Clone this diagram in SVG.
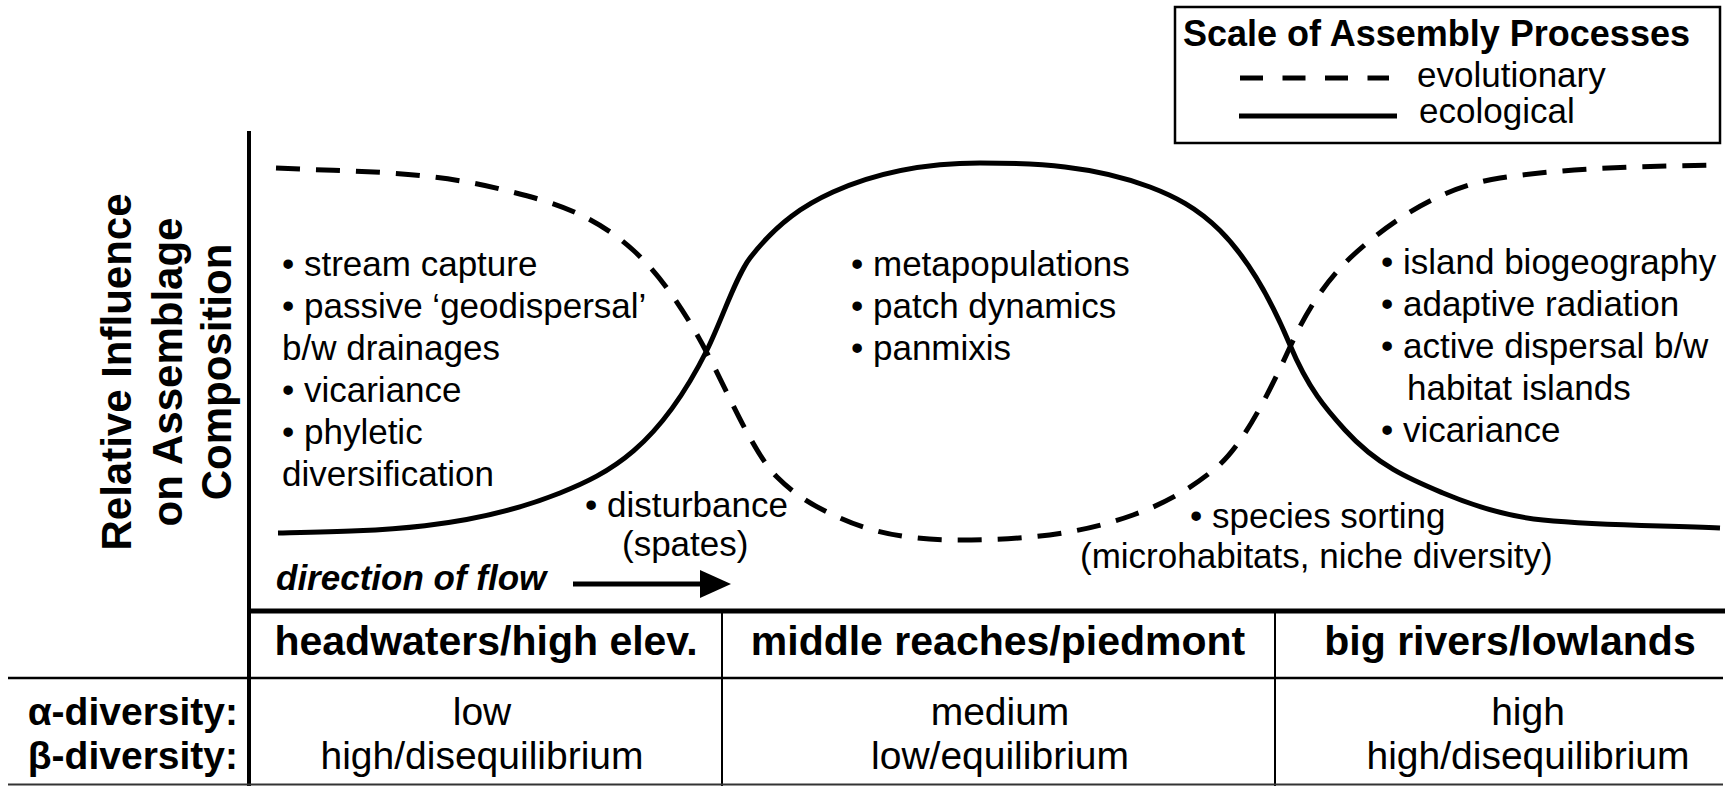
<svg xmlns="http://www.w3.org/2000/svg" width="1727" height="786" viewBox="0 0 1727 786">
<style>
.t{font-family:"Liberation Sans",Arial,Helvetica,sans-serif;fill:#000}
.r35{font-size:35px}
.b41{font-size:41px;font-weight:bold}
.b39{font-size:39px;font-weight:bold}
.r39{font-size:39px}
.lab{font-size:42px;font-weight:bold}
.ln{stroke:#000;fill:none}
.eco{stroke:#000;stroke-width:5;fill:none;stroke-linecap:butt}
.evo{stroke:#000;stroke-width:5;fill:none;stroke-dasharray:24 16}
</style>
<rect width="1727" height="786" fill="#fff"/>

<g id="legend">
  <rect x="1175" y="7" width="545" height="136" class="ln" stroke-width="2.5"/>
  <text class="t" x="1183" y="46" font-size="36" font-weight="bold">Scale of Assembly Processes</text>
  <line x1="1240" y1="78" x2="1389" y2="78" class="ln" stroke-width="5" stroke-dasharray="23 19.5"/>
  <text class="t r35" x="1417" y="87">evolutionary</text>
  <line x1="1239" y1="116" x2="1397" y2="116" class="ln" stroke-width="5"/>
  <text class="t r35" x="1419" y="123">ecological</text>
</g>

<g id="yaxis-label">
  <text class="t lab" text-anchor="middle" transform="translate(131,372) rotate(-90)">Relative Influence</text>
  <text class="t lab" text-anchor="middle" transform="translate(182,372) rotate(-90)">on Assemblage</text>
  <text class="t lab" text-anchor="middle" transform="translate(231,372) rotate(-90)">Composition</text>
</g>

<g id="axes">
  <line x1="249" y1="131" x2="249" y2="786" class="ln" stroke-width="4"/>
  <line x1="247" y1="611" x2="1725" y2="611" class="ln" stroke-width="5"/>
</g>

<g id="connectors">
  <path id="ecological-curve" class="eco" d="M278,533 C372,531 466,530.6 560,493 C609,473.4 658,448 707,350 C721.3,321.4 735.7,276.6 750,258 C777.7,222 805.3,204.5 833,192 C882,170 931,163 980,163 C1036.7,163 1093.3,165.5 1150,187 C1196.7,204.7 1243.3,232.9 1290,345 C1308.3,388.9 1326.7,409.9 1345,430 C1377.7,466 1410.3,479.3 1443,493 C1476.3,507 1509.7,516.7 1543,520 C1602,525.9 1661,525.3 1720,528"/>
  <path id="evolutionary-curve" class="evo" d="M276,168 C350.7,171.7 425.3,170.3 500,189 C544.3,200.1 588.7,210.1 633,250 C657.7,272.2 682.3,306.1 707,353 C730.3,397.3 753.7,453.7 777,477 C798,498 819,508.5 840,518 C880,536 920,540 960,540 C1017.7,540 1075.3,535.8 1133,515 C1161,504.9 1189,490.8 1217,467 C1241.3,446.3 1265.7,400.5 1290,347 C1315.7,290.5 1341.3,264.3 1367,243 C1411.3,206.2 1455.7,184.6 1500,178 C1572.3,167.2 1644.7,166.4 1717,165"/>
  <g id="flow-arrow">
    <line x1="573" y1="584" x2="705" y2="584" class="ln" stroke-width="5"/>
    <polygon points="700,570 731,584 700,598" fill="#000"/>
  </g>
</g>

<g id="headwaters-processes">
  <text class="t r35" x="282" y="276">• stream capture</text>
  <text class="t r35" x="282" y="318">• passive ‘geodispersal’</text>
  <text class="t r35" x="282" y="360">b/w drainages</text>
  <text class="t r35" x="282" y="402">• vicariance</text>
  <text class="t r35" x="282" y="444">• phyletic</text>
  <text class="t r35" x="282" y="486">diversification</text>
</g>

<g id="middle-processes">
  <text class="t r35" x="851" y="276">• metapopulations</text>
  <text class="t r35" x="851" y="318">• patch dynamics</text>
  <text class="t r35" x="851" y="360">• panmixis</text>
</g>

<g id="lowland-processes">
  <text class="t r35" x="1381" y="274">• island biogeography</text>
  <text class="t r35" x="1381" y="316">• adaptive radiation</text>
  <text class="t r35" x="1381" y="358">• active dispersal b/w</text>
  <text class="t r35" x="1407" y="400">habitat islands</text>
  <text class="t r35" x="1381" y="442">• vicariance</text>
</g>

<g id="disturbance">
  <text class="t r35" x="585" y="517">• disturbance</text>
  <text class="t r35" x="622" y="556">(spates)</text>
</g>

<g id="species-sorting">
  <text class="t r35" x="1190" y="528">• species sorting</text>
  <text class="t r35" x="1080" y="568">(microhabitats, niche diversity)</text>
</g>

<g id="flow-label">
  <text class="t" x="276" y="590" font-size="35" font-weight="bold" font-style="italic">direction of flow</text>
</g>

<g id="table">
  <line x1="8" y1="678" x2="1723" y2="678" class="ln" stroke-width="2.5"/>
  <line x1="722" y1="611" x2="722" y2="786" class="ln" stroke-width="2"/>
  <line x1="1275" y1="611" x2="1275" y2="786" class="ln" stroke-width="2"/>
  <line x1="8" y1="784.5" x2="1723" y2="784.5" stroke="#333" stroke-width="2"/>
  <text class="t b41" x="486" y="655" text-anchor="middle">headwaters/high elev.</text>
  <text class="t b41" x="998" y="655" text-anchor="middle">middle reaches/piedmont</text>
  <text class="t b41" x="1510" y="655" text-anchor="middle">big rivers/lowlands</text>
  <text class="t b39" x="238" y="725" text-anchor="end">α-diversity:</text>
  <text class="t b39" x="238" y="769" text-anchor="end">β-diversity:</text>
  <text class="t r39" x="482" y="725" text-anchor="middle">low</text>
  <text class="t r39" x="482" y="769" text-anchor="middle">high/disequilibrium</text>
  <text class="t r39" x="1000" y="725" text-anchor="middle">medium</text>
  <text class="t r39" x="1000" y="769" text-anchor="middle">low/equilibrium</text>
  <text class="t r39" x="1528" y="725" text-anchor="middle">high</text>
  <text class="t r39" x="1528" y="769" text-anchor="middle">high/disequilibrium</text>
</g>
</svg>
